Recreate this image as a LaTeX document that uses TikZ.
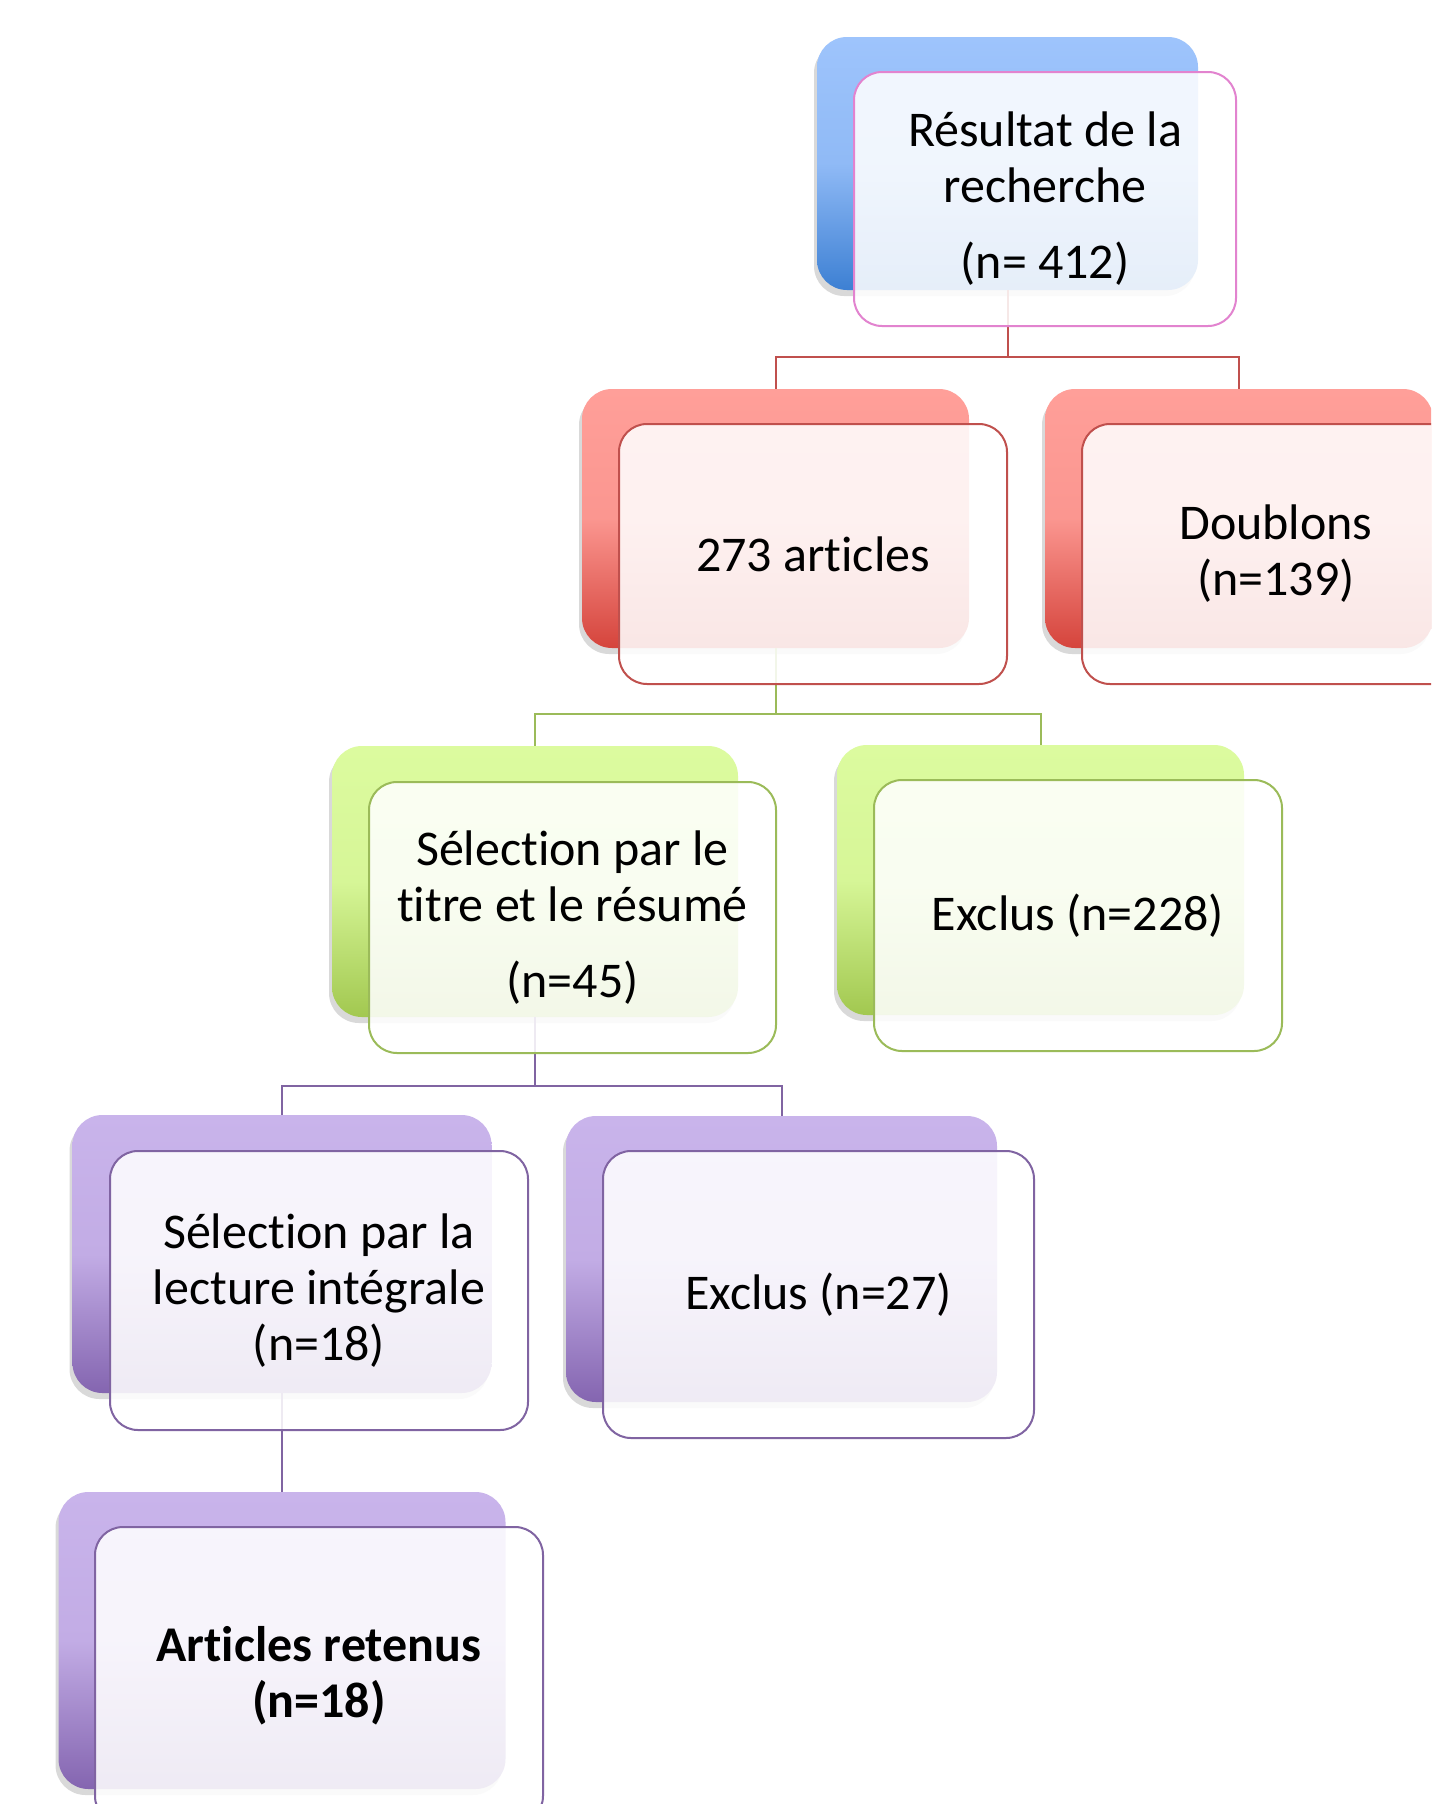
\documentclass[tikz,border=0pt]{standalone}
\usepackage{fontspec}
\setmainfont{Carlito}[Ligatures={NoCommon,NoContextual,NoRequired}]
\newcommand\nlg{\kern0pt}
\usetikzlibrary{shadows}
\definecolor{blueTop}{HTML}{9EC4FC}
\definecolor{blueBot}{HTML}{3D80D3}
\definecolor{pinkLine}{HTML}{E283CF}
\definecolor{redTop}{HTML}{FF9F99}
\definecolor{redBot}{HTML}{D5443C}
\definecolor{redLine}{HTML}{C0504D}
\definecolor{greenTop}{HTML}{DCFB9F}
\definecolor{greenBot}{HTML}{A2C850}
\definecolor{greenLine}{HTML}{9BBB59}
\definecolor{purpTop}{HTML}{C9B4EB}
\definecolor{purpBot}{HTML}{8465B0}
\definecolor{purpLine}{HTML}{8064A2}
\tikzset{
  sz/.style 2 args={minimum width=#1*0.5pt, minimum height=#2*0.5pt},
  backbox/.style={rectangle, rounded corners=15pt, inner sep=0pt, outer sep=0pt, draw=none,
    drop shadow={shadow xshift=-1.5pt, shadow yshift=-3pt, opacity=0.15, fill=black}},
  frontbox/.style={rectangle, rounded corners=14pt, inner sep=0pt, outer sep=0pt, line width=1pt,
    fill=white, fill opacity=0.87, text opacity=1, align=center, text=black,
    font=\fontsize{25pt}{28pt}\selectfont},
  blueback/.style={backbox, top color=blueTop, bottom color=blueBot, middle color=blueTop!85!blueBot},
  redback/.style={backbox, top color=redTop, bottom color=redBot, middle color=redTop!90!redBot},
  greenback/.style={backbox, top color=greenTop, bottom color=greenBot, middle color=greenTop!90!greenBot},
  purpback/.style={backbox, top color=purpTop, bottom color=purpBot, middle color=purpTop!90!purpBot},
  conn/.style={line width=1pt}
}
\begin{document}
\begin{tikzpicture}[x=0.5pt, y=-0.5pt]
\clip (0,0) rectangle (1431,1804);
\fill[white] (0,0) rectangle (1431,1804);
% back boxes
\node[blueback, sz={381}{253}] (topb) at (1007.5,163.5) {};
\node[redback, sz={387}{259}] (r1b) at (775.5,518.5) {};
\node[redback, sz={388}{259}] (r2b) at (1239,518.5) {};
\node[greenback, sz={406}{271}] (g1b) at (535,881.5) {};
\node[greenback, sz={407}{270}] (g2b) at (1040.5,880) {};
\node[purpback, sz={419}{278}] (p1b) at (282,1254) {};
\node[purpback, sz={431}{286}] (p2b) at (781.5,1259) {};
\node[purpback, sz={447}{297}] (p3b) at (282,1640.5) {};
% connectors
\coordinate (j1) at (1007.5,357);
\coordinate (j2) at (775.5,714);
\coordinate (j3) at (535,1086);
\draw[conn, redLine] (topb.south) -- (j1) -| (r1b.north);
\draw[conn, redLine] (j1) -| (r2b.north);
\draw[conn, greenLine] (r1b.south) -- (j2) -| (g1b.north);
\draw[conn, greenLine] (j2) -| (g2b.north);
\draw[conn, purpLine] (g1b.south) -- (j3) -| (p1b.north);
\draw[conn, purpLine] (j3) -| (p2b.north);
\draw[conn, purpLine] (p1b.south) -- (p3b.north);
% front boxes
\node[frontbox, draw=pinkLine, sz={382}{254}] (top) at (1045,199) {Résultat de la\\recherche\\[10pt](n= 412)};
\node[frontbox, draw=redLine, sz={388}{260}] (r1) at (813,554) {273 art\nlg icles};
\node[frontbox, draw=redLine, sz={388}{260}] (r2) at (1276,554) {Doublons\\(n=139)};
\node[frontbox, draw=greenLine, sz={407}{271}] (g1) at (572.5,917.5) {Sélect\nlg ion par le\\t\nlg it\nlg re et le résumé\\[10pt](n=45)};
\node[frontbox, draw=greenLine, sz={408}{271}] (g2) at (1078,915.5) {Exclus (n=228)};
\node[frontbox, draw=purpLine, sz={418}{279}] (p1) at (319,1290.5) {Sélect\nlg ion par la\\lecture intégrale\\(n=18)};
\node[frontbox, draw=purpLine, sz={431}{287}] (p2) at (818.5,1294.5) {Exclus (n=27)};
\node[frontbox, draw=purpLine, sz={448}{297}, font=\fontsize{25pt}{28pt}\selectfont\bfseries] (p3) at (319,1675.5) {Art\nlg icles retenus\\(n=18)};
\end{tikzpicture}
\end{document}
